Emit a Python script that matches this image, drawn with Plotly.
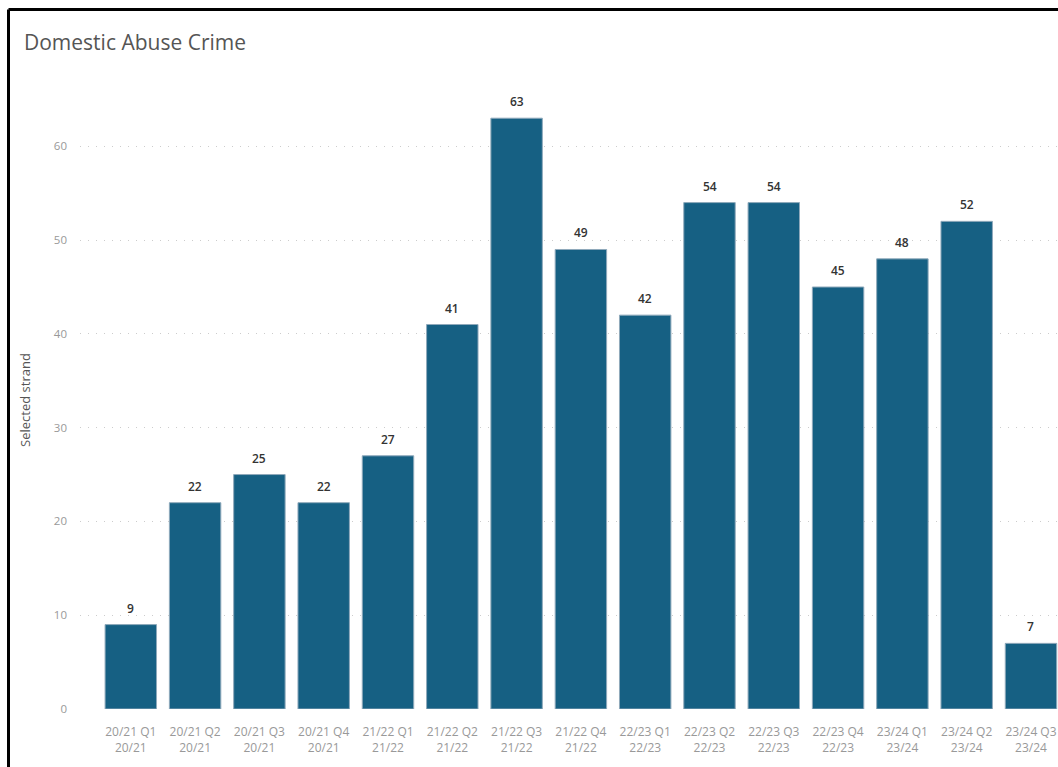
import plotly.graph_objects as go

quarters = ["20/21 Q1", "20/21 Q2", "20/21 Q3", "20/21 Q4", "21/22 Q1", "21/22 Q2",
            "21/22 Q3", "21/22 Q4", "22/23 Q1", "22/23 Q2", "22/23 Q3", "22/23 Q4",
            "23/24 Q1", "23/24 Q2", "23/24 Q3"]
years = ["20/21", "20/21", "20/21", "20/21", "21/22", "21/22", "21/22", "21/22",
         "22/23", "22/23", "22/23", "22/23", "23/24", "23/24", "23/24"]
values = [9, 22, 25, 22, 27, 41, 63, 49, 42, 54, 54, 45, 48, 52, 7]
tick_vals = [0, 10, 20, 30, 40, 50, 60]

labels = [f"{q}<br>{y}" for q, y in zip(quarters, years)]
xs = list(range(len(values)))

W, H = 1058, 767
ML, MR, MT, MB = 80, 0, 91, 767 - 709
pw, ph = W - ML - MR, H - MT - MB

def px_x(p):
    return (p - ML) / pw

def px_y(p):
    return (H - MB - p) / ph

fig = go.Figure(go.Bar(
    x=xs, y=values,
    marker=dict(color="#166083", line=dict(color="#8fa9bb", width=1)),
    width=0.8,
))

fig.update_layout(
    width=W, height=H,
    margin=dict(l=ML, r=MR, t=MT, b=MB),
    paper_bgcolor="white", plot_bgcolor="white",
    showlegend=False,
    font=dict(family="Open Sans", color="#999999"),
    xaxis=dict(
        tickmode="array", tickvals=xs, ticktext=labels,
        range=[-0.79, 14.42], showgrid=False, zeroline=False,
        tickfont=dict(size=12, color="#999999"), ticks="",
        ticklabelstandoff=14,
    ),
    yaxis=dict(
        range=[0, 65.9], tickvals=tick_vals,
        showgrid=True, gridcolor="#cccccc", griddash="1px,7px", gridwidth=1,
        zeroline=False, tickfont=dict(size=11.5, color="#999999"),
        title=dict(text="Selected strand", font=dict(size=13, color="#555555"), standoff=20),
        ticklabelstandoff=12,
    ),
    shapes=[
        dict(type="line", xref="paper", yref="paper",
             x0=px_x(8.5), x1=px_x(1070), y0=px_y(9.5), y1=px_y(9.5),
             line=dict(color="black", width=3)),
        dict(type="line", xref="paper", yref="paper",
             x0=px_x(8.5), x1=px_x(8.5), y0=px_y(9.5), y1=px_y(780),
             line=dict(color="black", width=3)),
    ],
)

fig.add_annotation(
    text="Domestic Abuse Crime", xref="paper", yref="paper",
    x=px_x(22), y=px_y(42), xanchor="left", yanchor="middle",
    showarrow=False, font=dict(family="Open Sans", size=21, color="#555555"),
)

for xv, v in zip(xs, values):
    fig.add_annotation(
        x=xv, y=v, text=str(v), showarrow=False, yanchor="bottom", yshift=6,
        font=dict(family="Open Sans", size=12, color="#333333", weight=600),
    )

fig.write_html(
    "out.html",
    config={"displayModeBar": False},
    post_script="document.body.style.margin='0';document.body.style.overflow='hidden';",
)
